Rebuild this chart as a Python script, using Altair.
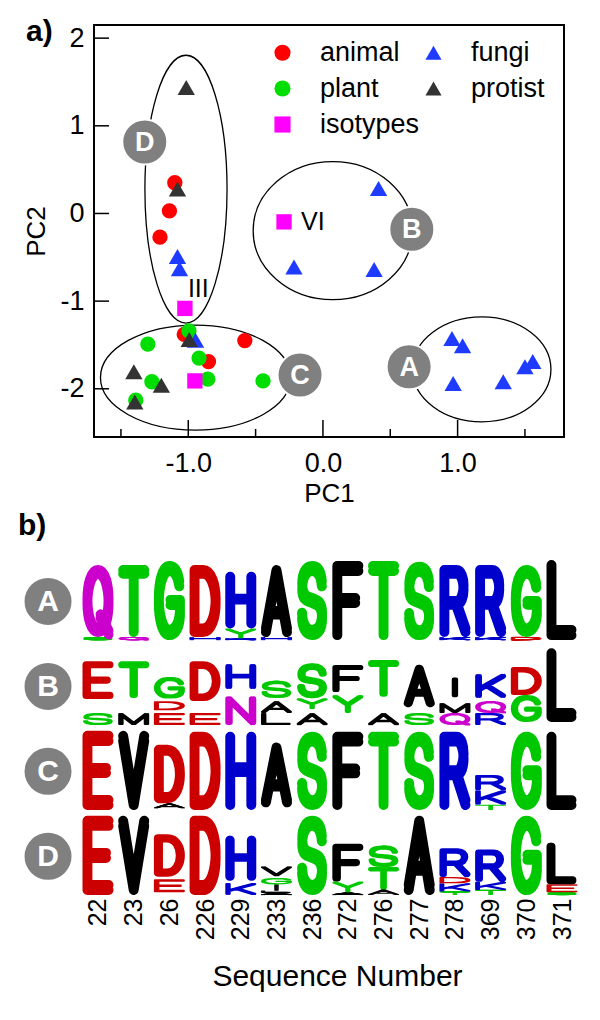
import math
import altair as alt
import pandas as pd

# ---------------- panel a) : PCA scatter ----------------
animal_x = [-1.10, -1.14, -1.21, -1.03, -0.58, -0.85]
animal_y = [0.35, 0.03, -0.27, -1.38, -1.45, -1.69]
plant_x = [-0.995, -1.30, -0.92, -0.855, -0.445, -1.27, -1.39]
plant_y = [-1.34, -1.49, -1.65, -1.89, -1.91, -1.92, -2.13]
fungi_x = [-1.08, -1.065, -0.946, -0.215, 0.38, 0.413, 0.958, 1.037, 0.967, 1.339, 1.50, 1.558]
fungi_y = [-0.49, -0.63, -1.445, -0.61, -0.64, 0.285, -1.425, -1.51, -1.94, -1.92, -1.75, -1.69]
protist_x = [-1.015, -1.08, -0.993, -1.404, -1.20, -1.397]
protist_y = [1.437, 0.28, -1.437, -1.806, -1.96, -2.15]
isotype_x = [-1.025, -0.289, -0.951]
isotype_y = [-1.083, -0.096, -1.91]
isotype_label = ["III", "VI", ""]

# legend is filled column by column: animal, plant, isotypes | fungi, protist
groups = ["animal", "plant", "isotypes", "fungi", "protist"]
group_colors = ["#FF0000", "#00DD00", "#FF00FF", "#1F3BFF", "#333333"]
group_shapes = ["circle", "circle", "square", "triangle-up", "triangle-up"]

cluster_names = ["A", "B", "C", "D"]
ellipse_cx = [1.179, 0.073, -0.946, -1.017]
ellipse_cy = [-1.778, -0.196, -1.872, 0.277]
ellipse_rx = [0.514, 0.591, 0.706, 0.305]
ellipse_ry = [0.599, 0.787, 0.599, 1.528]
badge_x = [0.64, 0.66, -0.17, -1.323]
badge_y = [-1.749, -0.18, -1.844, 0.816]

x_major = [-1.0, 0.0, 1.0]
x_minor = [-1.5, -0.5, 0.5, 1.5]
y_major = [-2, -1, 0, 1, 2]

# ---------------- panel b) : sequence logos ----------------
seq_numbers = ["22", "23", "26", "226", "229", "233", "236", "272", "276", "277",
               "278", "369", "370", "371"]
# stacks from bottom to top: (residue, bits); "-" = unresolved small residues
logo_A = [
    [("S", 0.17), ("Q", 4.0)],
    [("Q", 0.17), ("T", 4.0)],
    [("G", 4.4)],
    [("H", 0.17), ("D", 4.0)],
    [("K", 0.1), ("Y", 0.55), ("H", 3.15)],
    [("H", 0.17), ("A", 4.0)],
    [("S", 4.4)],
    [("F", 4.4)],
    [("T", 4.4)],
    [("S", 4.35)],
    [("K", 0.17), ("R", 4.0)],
    [("K", 0.17), ("R", 4.0)],
    [("D", 0.17), ("G", 4.0)],
    [("L", 4.45)],
]
logo_B = [
    [("S", 0.67), ("-", 0.78), ("E", 2.1)],
    [("M", 0.67), ("-", 0.83), ("T", 2.05)],
    [("E", 0.67), ("-", 0.15), ("D", 0.5), ("-", 0.15), ("G", 1.2)],
    [("E", 0.67), ("-", 0.67), ("D", 2.2)],
    [("N", 1.6), ("-", 0.4), ("H", 1.4)],
    [("L", 0.67), ("A", 0.67), ("-", 0.17), ("S", 0.95)],
    [("A", 0.67), ("-", 0.22), ("Y", 0.6), ("S", 1.95)],
    [("-", 0.67), ("Y", 1.0), ("-", 0.17), ("F", 1.5)],
    [("A", 0.67), ("-", 0.9), ("T", 2.05)],
    [("S", 0.67), ("-", 0.33), ("A", 2.35)],
    [("Q", 0.67), ("M", 0.55), ("-", 0.33), ("I", 1.1)],
    [("R", 0.67), ("Q", 0.67), ("-", 0.17), ("K", 1.33)],
    [("-", 0.17), ("G", 1.5), ("D", 1.55)],
    [("-", 0.17), ("L", 4.1)],
]
logo_C = [
    [("E", 4.4)],
    [("V", 4.4)],
    [("-", 0.1), ("A", 0.28), ("D", 3.25)],
    [("D", 4.35)],
    [("H", 4.35)],
    [("-", 0.15), ("A", 3.6)],
    [("S", 4.35)],
    [("F", 4.35)],
    [("T", 4.35)],
    [("S", 4.35)],
    [("R", 4.35)],
    [("T", 0.3), ("K", 0.8), ("R", 0.85)],
    [("G", 4.35)],
    [("L", 4.35)],
]
logo_D = [
    [("E", 4.4)],
    [("V", 4.4)],
    [("-", 0.15), ("E", 0.72), ("-", 0.15), ("D", 2.35)],
    [("D", 4.4)],
    [("K", 0.67), ("-", 0.12), ("H", 2.5)],
    [("A", 0.12), ("L", 0.12), ("I", 0.15), ("I", 0.2), ("G", 0.35), ("-", 0.1), ("V", 0.55)],
    [("S", 4.4)],
    [("A", 0.15), ("Y", 0.6), ("F", 2.1)],
    [("A", 0.3), ("T", 1.25), ("S", 1.2)],
    [("A", 4.4)],
    [("T", 0.2), ("K", 0.45), ("D", 0.35), ("R", 1.6)],
    [("T", 0.28), ("K", 0.45), ("R", 1.8)],
    [("G", 4.4)],
    [("S", 0.15), ("E", 0.45), ("L", 2.3)],
]

RES_COLOR = {}
for _l in "GSTYC":
    RES_COLOR[_l] = "#00C800"
for _l in "KRH":
    RES_COLOR[_l] = "#0000CC"
for _l in "DE":
    RES_COLOR[_l] = "#CC0000"
for _l in "NQ":
    RES_COLOR[_l] = "#CC00CC"
for _l in "AVLIPWFM":
    RES_COLOR[_l] = "#000000"

# letter skeletons in a unit box (u to the right, v upward)
GLYPHS = {
    "A": "M 0 0 L 0.5 1 L 1 0 M 0.2 0.3 L 0.8 0.3",
    "D": "M 0 0 L 0 1 L 0.4 1 C 1.2 1 1.2 0 0.4 0 Z",
    "E": "M 1 1 L 0 1 L 0 0 L 1 0 M 0 0.5 L 0.88 0.5",
    "F": "M 1 1 L 0 1 L 0 0 M 0 0.5 L 0.85 0.5",
    "G": "M 0.97 0.76 C 0.9 0.93 0.72 1 0.5 1 C -0.167 1 -0.167 0 0.5 0 C 0.78 0 0.98 0.12 1 0.3 L 1 0.47 L 0.55 0.47",
    "H": "M 0 0 L 0 1 M 1 0 L 1 1 M 0 0.52 L 1 0.52",
    "I": "M 0.5 0 L 0.5 1",
    "K": "M 0 0 L 0 1 M 1 1 L 0 0.3 M 0.33 0.53 L 1 0",
    "L": "M 0 1 L 0 0 L 0.95 0",
    "M": "M 0 0 L 0 1 L 0.5 0 L 1 1 L 1 0",
    "N": "M 0 0 L 0 1 L 1 0 L 1 1",
    "Q": "M 0.5 1 C -0.167 1 -0.167 0 0.5 0 C 1.167 0 1.167 1 0.5 1 Z M 0.62 0.24 L 1 -0.04",
    "R": "M 0 0 L 0 1 L 0.58 1 C 1.02 1 1.02 0.47 0.58 0.47 L 0 0.47 M 0.55 0.47 L 1 0",
    "S": "M 0.96 0.76 C 0.92 0.93 0.75 1 0.5 1 C 0.22 1 0.03 0.9 0.03 0.72 C 0.03 0.52 0.3 0.53 0.5 0.5 C 0.75 0.47 0.97 0.45 0.97 0.26 C 0.97 0.08 0.77 0 0.5 0 C 0.22 0 0.04 0.1 0.02 0.27",
    "T": "M 0 1 L 1 1 M 0.5 1 L 0.5 0",
    "V": "M 0 1 L 0.5 0 L 1 1",
    "Y": "M 0 1 L 0.5 0.45 L 1 1 M 0.5 0.45 L 0.5 0",
}

# ---------------- layout constants ----------------
W1, H1 = 470, 412
X_DOM = [-1.70, 1.79]
Y_DOM = [-2.55, 2.15]
W2, H2 = 486, 342
XL_DOM = [-0.112, 13.504]
YL_DOM = [0, 19]
ROW_PITCH = 4.72
GLYPH_W = 31.0
FONT = "Liberation Sans"


def glyph_path(letter, w, h):
    pw = min(0.32 * w, 4.0 + 0.12 * h)
    ph = max(0.8, 0.19 * h)
    sw = min(pw, ph)
    iw = w - pw
    ih = max(h - ph, 0.3)
    nx = 1 if pw - sw < 0.01 else int(math.ceil((pw - sw) / (0.6 * sw))) + 1
    ny = 1 if ph - sw < 0.01 else int(math.ceil((ph - sw) / (0.6 * sw))) + 1
    xs = [0.0] if nx == 1 else [-(pw - sw) / 2 + i * (pw - sw) / (nx - 1) for i in range(nx)]
    ys = [0.0] if ny == 1 else [-(ph - sw) / 2 + j * (ph - sw) / (ny - 1) for j in range(ny)]
    toks = GLYPHS[letter].split()
    parts = []
    for ox in xs:
        for oy in ys:
            i = 0
            while i < len(toks):
                t = toks[i]
                if t.isalpha():
                    parts.append(t)
                    i += 1
                else:
                    u = float(toks[i]); v = float(toks[i + 1])
                    X = (u - 0.5) * iw + ox
                    Y = -(v - 0.5) * ih + oy
                    parts.append(f"{X:.2f},{Y:.2f}")
                    i += 2
    return " ".join(parts), sw


# ---------------- panel a) chart ----------------
pts = []
for g, xs_, ys_ in [("animal", animal_x, animal_y), ("plant", plant_x, plant_y),
                    ("fungi", fungi_x, fungi_y), ("protist", protist_x, protist_y),
                    ("isotypes", isotype_x, isotype_y)]:
    for a, b in zip(xs_, ys_):
        pts.append({"x": a, "y": b, "group": g,
                    "sz": 300 if g in ("fungi", "protist") else 235})
pts_df = pd.DataFrame(pts)

PXU = W1 / (X_DOM[1] - X_DOM[0])
PYU = H1 / (Y_DOM[1] - Y_DOM[0])
ell = []
for n, cx, cy, rx, ry in zip(cluster_names, ellipse_cx, ellipse_cy, ellipse_rx, ellipse_ry):
    a = rx * PXU
    b = ry * PYU
    path = f"M {-a:.2f},0 A {a:.2f},{b:.2f} 0 1 0 {a:.2f},0 A {a:.2f},{b:.2f} 0 1 0 {-a:.2f},0 Z"
    ell.append({"x": cx, "y": cy, "path": path})
ell_df = pd.DataFrame(ell)
badge_df = pd.DataFrame({"x": badge_x, "y": badge_y, "t": cluster_names})
iso_df = pd.DataFrame({"x": isotype_x, "y": isotype_y, "label": isotype_label})
xt_major = pd.DataFrame({"x": x_major})
xt_minor = pd.DataFrame({"x": x_minor})
yt_major = pd.DataFrame({"y": y_major})

x_enc = alt.X("x:Q", scale=alt.Scale(domain=X_DOM, nice=False, zero=False),
              axis=alt.Axis(values=x_major,
                            labelExpr="datum.value < 0 ? '-' + format(-datum.value, '.1f') : format(datum.value, '.1f')",
                            ticks=False, tickSize=0, domain=False, grid=False, labelFlush=False,
                            labelFontSize=27, labelPadding=13, labelColor="black",
                            title="PC1", titleFontSize=26, titleFontWeight="normal",
                            titleColor="black", titlePadding=4))
y_enc = alt.Y("y:Q", scale=alt.Scale(domain=Y_DOM, nice=False, zero=False),
              axis=alt.Axis(values=y_major,
                            labelExpr="datum.value < 0 ? '-' + format(-datum.value, 'd') : format(datum.value, 'd')",
                            ticks=False, tickSize=0, domain=False, grid=False, labelFlush=False,
                            labelFontSize=27, labelPadding=10, labelColor="black",
                            title="PC2", titleFontSize=26, titleFontWeight="normal",
                            titleColor="black", titlePadding=10))

ellipses = alt.Chart(ell_df).mark_point(filled=False, opacity=1, stroke="black",
                                         strokeWidth=1.3).encode(
    x=x_enc, y=y_enc, shape=alt.Shape("path:N", scale=None), size=alt.value(4))

legend = alt.Legend(orient="none", legendX=175, legendY=14, columns=2, title=None,
                    labelFontSize=27, labelColor="black", symbolSize=260, labelOffset=24,
                    rowPadding=8, columnPadding=0, padding=0, symbolStrokeWidth=0)
points = alt.Chart(pts_df).mark_point(filled=True, opacity=1).encode(
    x=x_enc, y=y_enc,
    color=alt.Color("group:N", scale=alt.Scale(domain=groups, range=group_colors), legend=legend),
    shape=alt.Shape("group:N", scale=alt.Scale(domain=groups, range=group_shapes), legend=legend),
    size=alt.Size("sz:Q", scale=None),
)

xt1 = alt.Chart(xt_major).mark_rule(color="black", strokeWidth=1.5).encode(
    x=x_enc, y=alt.value(H1), y2=alt.value(H1 - 17))
xt2 = alt.Chart(xt_minor).mark_rule(color="black", strokeWidth=1.5).encode(
    x=x_enc, y=alt.value(H1), y2=alt.value(H1 - 8))
yt1 = alt.Chart(yt_major).mark_rule(color="black", strokeWidth=1.5).encode(
    y=y_enc, x=alt.value(0), x2=alt.value(15))

badges = alt.Chart(badge_df).mark_point(filled=True, shape="circle", size=2025, color="#808080",
                                        stroke="white", strokeWidth=2, opacity=1).encode(
    x=x_enc, y=y_enc)
badge_txt = alt.Chart(badge_df).mark_text(color="white", fontWeight="bold", fontSize=27,
                                          baseline="middle", align="center", dy=1).encode(
    x=x_enc, y=y_enc, text="t:N")

iso3 = alt.Chart(iso_df).transform_filter(alt.datum.label == "III").mark_text(
    align="left", baseline="middle", dx=3, dy=-19, fontSize=25, color="black").encode(
    x=x_enc, y=y_enc, text="label:N")
iso6 = alt.Chart(iso_df).transform_filter(alt.datum.label == "VI").mark_text(
    align="left", baseline="middle", dx=17, dy=0, fontSize=25, color="black").encode(
    x=x_enc, y=y_enc, text="label:N")

tag_a = alt.Chart(pd.DataFrame({"t": ["a)"]})).mark_text(
    align="left", baseline="alphabetic", fontSize=30, fontWeight="bold", color="black").encode(
    x=alt.value(-68), y=alt.value(16), text="t:N")

top = alt.layer(ellipses, points, xt1, xt2, yt1, badges, badge_txt, iso3, iso6, tag_a).properties(
    width=W1, height=H1)

# ---------------- panel b) chart ----------------
PX_PER_BIT = H2 / (YL_DOM[1] - YL_DOM[0])
recs = []
for r_i, stacks in enumerate([logo_A, logo_B, logo_C, logo_D]):
    base = (3 - r_i) * ROW_PITCH
    for c_i, stack in enumerate(stacks):
        cum = 0.0
        for letter, bits in stack:
            if letter != "-":
                path, sw = glyph_path(letter, GLYPH_W, bits * PX_PER_BIT)
                recs.append({"xi": c_i, "yc": base + cum + bits / 2, "path": path,
                             "sw": sw, "col": RES_COLOR[letter]})
            cum += bits
logo_df = pd.DataFrame(recs)
row_badges = pd.DataFrame({"xi": [-1.4] * 4,
                           "yc": [(3 - i) * ROW_PITCH + 2.15 for i in range(4)],
                           "t": cluster_names})

label_list = ",".join(f"'{s}'" for s in seq_numbers)
xl_enc = alt.X("xi:Q", scale=alt.Scale(domain=XL_DOM, nice=False, zero=False),
               axis=alt.Axis(values=list(range(len(seq_numbers))),
                             labelExpr=f"[{label_list}][datum.value]",
                             labelAngle=-90, ticks=False, tickSize=0, domain=False, grid=False,
                             labelFlush=False, labelOverlap=False, labelFontSize=25,
                             labelPadding=3, labelColor="black",
                             title="Sequence Number", titleFontSize=30,
                             titleFontWeight="normal", titleColor="black", titlePadding=22))
yl_enc = alt.Y("yc:Q", scale=alt.Scale(domain=YL_DOM, nice=False, zero=False), axis=None)

letters = alt.Chart(logo_df).mark_point(filled=False, opacity=1, strokeCap="round",
                                         strokeJoin="round").encode(
    x=xl_enc, y=yl_enc,
    shape=alt.Shape("path:N", scale=None),
    stroke=alt.Stroke("col:N", scale=None),
    strokeWidth=alt.StrokeWidth("sw:Q", scale=None),
    size=alt.value(4),
)
rb = alt.Chart(row_badges).mark_point(filled=True, shape="circle", size=2400, color="#808080",
                                      stroke="white", strokeWidth=2, opacity=1).encode(
    x=xl_enc, y=yl_enc)
rb_txt = alt.Chart(row_badges).mark_text(color="white", fontWeight="bold", fontSize=30,
                                         baseline="middle", align="center", dy=1).encode(
    x=xl_enc, y=yl_enc, text="t:N")
tag_b = alt.Chart(pd.DataFrame({"t": ["b)"]})).mark_text(
    align="left", baseline="alphabetic", fontSize=30, fontWeight="bold", color="black").encode(
    x=alt.value(-76), y=alt.value(-18), text="t:N")

logo = alt.layer(rb, rb_txt, letters, tag_b).properties(
    width=W2, height=H2, view=alt.ViewConfig(stroke="transparent"))

chart = alt.vconcat(top, logo, spacing=3).properties(
    padding={"left": 9, "top": 8, "right": 5, "bottom": 5}
).configure(font=FONT).configure_view(stroke="black", strokeWidth=2)

chart.save("out.html", embed_options={"renderer": "svg", "actions": False})
